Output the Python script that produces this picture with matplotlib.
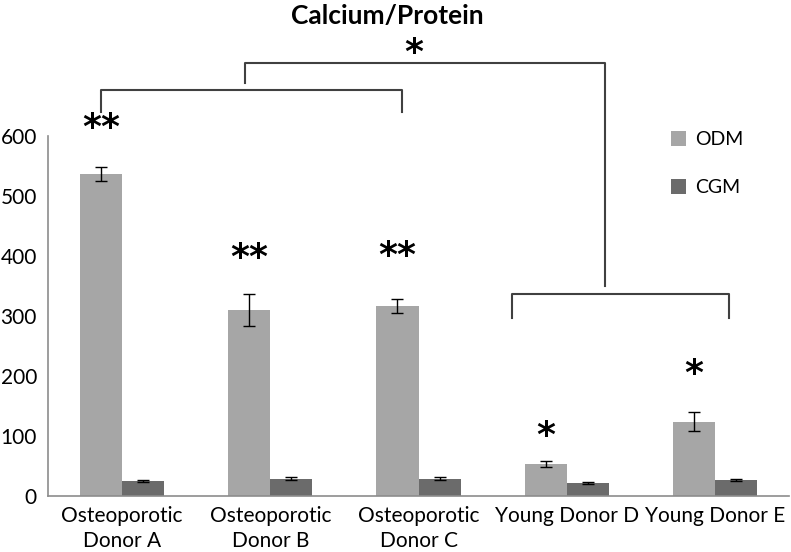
import matplotlib.pyplot as plt
import numpy as np

plt.rcParams['font.family'] = ['Lato', 'DejaVu Sans']

donors = ['Osteoporotic\nDonor A', 'Osteoporotic\nDonor B', 'Osteoporotic\nDonor C',
          'Young Donor D', 'Young Donor E']
odm = [537, 310, 317, 53, 124]
odm_err = [12, 27, 12, 5, 16]
cgm = [25, 29, 29, 22, 27]
cgm_err = [1.5, 2, 2, 2, 2]
stars = ['**', '**', '**', '*', '*']
star_y = [623, 407, 410, 110, 213]

fig = plt.figure(figsize=(7.91, 5.52), dpi=100)
ax = fig.add_axes([0.0607, 0.1014, 0.9368, 0.6522])

x = np.arange(len(donors))
w = 0.284
ax.bar(x - w/2, odm, w, color='#a6a6a6', label='ODM',
       yerr=odm_err, error_kw=dict(ecolor='black', capsize=4, elinewidth=1, capthick=1))
ax.bar(x + w/2, cgm, w, color='#6b6b6b', label='CGM',
       yerr=cgm_err, error_kw=dict(ecolor='black', capsize=4, elinewidth=1, capthick=1))

ax.set_xlim(-0.5, 4.5)
ax.set_ylim(0, 600)
ax.set_yticks(range(0, 601, 100))
ax.set_xticks(x)
ax.set_xticklabels(donors, fontsize=15, linespacing=1.35)
ax.tick_params(axis='y', labelsize=15, length=0, pad=8)
ax.tick_params(axis='x', length=0, pad=7)
for s in ['top', 'right']:
    ax.spines[s].set_visible(False)
for s in ['left', 'bottom']:
    ax.spines[s].set_color('#8c8c8c')
    ax.spines[s].set_linewidth(1.2)

# significance stars
for i, (s, yy) in enumerate(zip(stars, star_y)):
    ax.text(i - w/2, yy - 10, s, ha='center', va='center', fontsize=26,
            family='DejaVu Sans', fontweight='semibold')

# brackets
lc = '#404040'
kw = dict(color=lc, lw=1.5, clip_on=False)
ax.plot([-w/2, -w/2, 2 - w/2 + 0.03, 2 - w/2 + 0.03], [640, 677, 677, 640], **kw)
ax.plot([2.628, 2.628, 4.095, 4.095], [297, 337, 337, 297], **kw)
ax.plot([0.831, 0.831, 3.257, 3.257], [688, 722, 722, 350], **kw)
ax.text(1.966, 748 - 10, '*', ha='center', va='center', fontsize=26,
        family='DejaVu Sans', fontweight='semibold')

fig.text(387 / 791, 1 - 16 / 552, 'Calcium/Protein', ha='center', va='center',
         fontsize=19, fontweight='bold')

ax.legend(loc='upper left', bbox_to_anchor=(0.826, 0.795), bbox_transform=fig.transFigure,
          frameon=False, fontsize=14, handlelength=0.8, handleheight=0.8,
          labelspacing=1.6, handletextpad=0.45)

fig.savefig('out.png', dpi=100)
